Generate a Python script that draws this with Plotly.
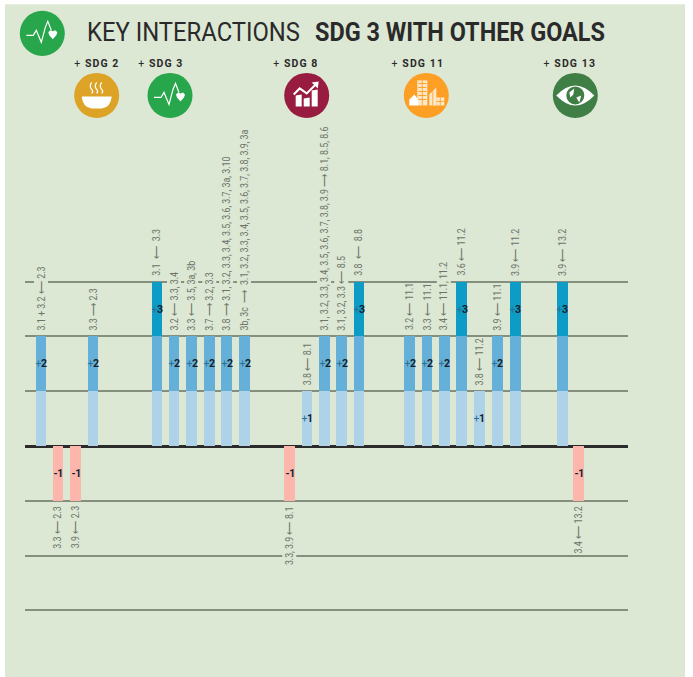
import plotly.graph_objects as go

# ---- data ----
bar_centers = [41, 58, 75.5, 93, 157, 174, 191.7, 209.3, 226.7, 244.5, 289.5, 307, 324.5, 341.7, 359,
               409.6, 427, 444.3, 461.7, 479.3, 497.3, 515.3, 562.3, 578.7]
bar_scores = [2, -1, -1, 2, 3, 2, 2, 2, 2, 2, -1, 1, 2, 2, 3, 2, 2, 2, 3, 1, 2, 3, 3, -1]
bar_notes = [
    "3.1 + 3.2 ⟵ 2.3", "3.3 ⟵ 2.3", "3.9 ⟵ 2.3", "3.3 ⟶ 2.3",
    "3.1\u00a0\u00a0⟵\u00a0\u00a03.3", "3.2 ⟵ 3.3, 3.4", "3.3 ⟵ 3.5, 3a, 3b", "3.7 ⟶ 3.2, 3.3",
    "3.8 ⟶ 3.1, 3.2, 3.3, 3.4, 3.5, 3.6, 3.7, 3a, 3.10",
    "3b, 3c\u00a0\u00a0⟶\u00a0\u00a03.1, 3.2, 3.3, 3.4, 3.5, 3.6, 3.7, 3.8, 3.9, 3a",
    "3.3, 3.9 ⟵ 8.1", "3.8 ⟵ 8.1",
    "3.1, 3.2, 3.3, 3.4, 3.5, 3.6, 3.7, 3.8, 3.9 ⟶ 8.1, 8.5, 8.6",
    "3.1, 3.2, 3.3 ⟵ 8.5", "3.8\u00a0\u00a0⟵\u00a0\u00a08.8",
    "3.2 ⟵ 11.1", "3.3 ⟵ 11.1", "3.4 ⟵ 11.1, 11.2", "3.6 ⟵ 11.2",
    "3.8 ⟵ 11.2", "3.9 ⟵ 11.1", "3.9 ⟵ 11.2", "3.9 ⟵ 13.2", "3.4 ⟵ 13.2",
]
title_light = "KEY INTERACTIONS"
title_bold = "SDG 3 WITH OTHER GOALS"
goal_labels = ["+ <b>SDG 2</b>", "+ <b>SDG 3</b>", "+ <b>SDG 8</b>", "+ <b>SDG 11</b>", "+ <b>SDG 13</b>"]
level_ticks = [-3, -2, -1, 0, 1, 2, 3]

# ---- page geometry ----
W, H = 693, 677
UNIT = 54.67
PAD = 0.05
L, R, T, B = 25, 628, 282 - PAD * UNIT, 610 + PAD * UNIT
PANEL = "#dce7d4"
FONT = "Roboto, Liberation Sans, sans-serif"
def fx(px): return (px - L) / (R - L)
def fy(py): return (B - py) / (B - T)

shapes = [dict(type="rect", xref="paper", yref="paper", x0=fx(5), x1=fx(685), y0=fy(5), y1=fy(677),
               fillcolor=PANEL, line_width=0, layer="below")]

def path(cmds, fill=None, stroke=None, lw=1.5):
    parts = []
    for c in cmds:
        if c[0] == "Z":
            parts.append("Z")
        else:
            parts.append(f"{c[0]} {fx(c[1]):.5f} {fy(c[2]):.5f}")
    d = dict(type="path", xref="paper", yref="paper", path=" ".join(parts), layer="above")
    d["fillcolor"] = fill if fill else "rgba(0,0,0,0)"
    d["line"] = dict(color=stroke if stroke else "rgba(0,0,0,0)", width=lw if stroke else 0)
    return d

def circle(cx, cy, r, fill):
    return dict(type="circle", xref="paper", yref="paper", x0=fx(cx - r), x1=fx(cx + r),
                y0=fy(cy + r), y1=fy(cy - r), fillcolor=fill, line_width=0, layer="above")

def poly(cx, cy, pts, fill="white", stroke=None, lw=1.5, close=True):
    cmds = [("M" if i == 0 else "L", cx + p[0], cy + p[1]) for i, p in enumerate(pts)]
    if close:
        cmds.append(("Z",))
    return path(cmds, fill=fill if close else None, stroke=stroke, lw=lw)

def health(cx, cy):
    s = [circle(cx, cy, 22.5, "#27a64b")]
    s.append(poly(cx, cy, [(-16, 2), (-9, 2), (-6, -3), (-1, 9), (3, -6), (5.5, -12), (9, -3)],
                  stroke="white", lw=1.2, close=False))
    s.append(poly(cx, cy, [(6, -1), (8, -3), (10.5, -2), (13, -3), (15, -1), (14, 2), (10.5, 6), (7, 2)], fill="white"))
    return s

def bowl(cx, cy):
    s = [circle(cx, cy, 22.5, "#dda327")]
    s.append(path([("M", cx - 15, cy + 1), ("L", cx + 15, cy + 1), ("Q", cx + 14, cy + 12),
                   ("", cx + 5, cy + 13), ("L", cx - 5, cy + 13), ("Q", cx - 14, cy + 12), ("", cx - 15, cy + 1), ("Z",)],
                  fill="white"))
    for dx in (-5, 0, 5):
        s.append(path([("M", cx + dx, cy - 13), ("Q", cx + dx - 3, cy - 9), ("", cx + dx, cy - 6),
                       ("Q", cx + dx + 2, cy - 4), ("", cx + dx, cy - 2)], stroke="white", lw=1.2))
    return s

def growth(cx, cy):
    s = [circle(cx, cy, 22.5, "#971c3f")]
    for x0, x1, top in [(-11, -5, 0), (-3, 3, 3), (5, 11, -5)]:
        s.append(poly(cx, cy, [(x0, 11), (x0, top), (x1, top - 1), (x1, 11)]))
    s.append(poly(cx, cy, [(-13, -1), (-7, -7), (0, -2), (9, -11)], stroke="white", lw=2, close=False))
    s.append(poly(cx, cy, [(5, -13), (12, -14), (11, -7)]))
    return s

def city(cx, cy):
    s = [circle(cx, cy, 22.5, "#fd9e25")]
    c = "#fde9c8"
    s.append(poly(cx, cy, [(-9, 10), (-9, -15), (1, -15), (1, 10)], fill=c))
    s.append(poly(cx, cy, [(3, 10), (3, -1), (10, -8), (10, 10)], fill=c))
    s.append(poly(cx, cy, [(10, 10), (10, 2), (18, 2), (18, 10)], fill=c))
    s.append(poly(cx, cy, [(-17, 10), (-17, 4), (-12, -1), (-8, 4), (-8, 10)], fill="white"))
    for y in (-12, -8, -4, 0, 4):
        s.append(poly(cx, cy, [(-8, y), (0, y)], stroke="#fd9e25", lw=1, close=False))
    s.append(poly(cx, cy, [(-4, -15), (-4, 10)], stroke="#fd9e25", lw=0.8, close=False))
    s.append(poly(cx, cy, [(10, 6), (18, 6)], stroke="#fd9e25", lw=0.8, close=False))
    s.append(poly(cx, cy, [(14, 2), (14, 10)], stroke="#fd9e25", lw=0.8, close=False))
    s.append(poly(cx, cy, [(6.5, -4), (6.5, 10)], stroke="#fd9e25", lw=0.8, close=False))
    return s

def eye(cx, cy):
    s = [circle(cx, cy, 22.5, "#3f7e44")]
    s.append(path([("M", cx - 19, cy), ("Q", cx, cy - 20), ("", cx + 19, cy), ("Q", cx, cy + 20), ("", cx - 19, cy), ("Z",)],
                  fill="white"))
    s.append(circle(cx, cy, 9, "#3f7e44"))
    s.append(poly(cx, cy, [(-6, -3), (-1, -7), (-2, -1), (-5, 2)], fill="white"))
    s.append(poly(cx, cy, [(1, 2), (6, 0), (4, 7)], fill="white"))
    return s

shapes += health(42.3, 34) + bowl(96.7, 96) + health(170, 96) + growth(306.7, 96) + city(426.3, 96) + eye(575.3, 96)

# ---- stacked bar segments ----
def layer_of(lo):
    return [1 if v >= lo else None for v in bar_scores]

fig = go.Figure()
for lo, color in [(1, "#aed3e9"), (2, "#65b0d9"), (3, "#0d9cc5")]:
    fig.add_trace(go.Bar(x=bar_centers, y=layer_of(lo), width=10.8, marker=dict(color=color, line_width=0),
                         showlegend=False))
fig.add_trace(go.Bar(x=bar_centers, y=[v if v < 0 else None for v in bar_scores], width=10.8,
                     marker=dict(color="#fdb6ac", line_width=0), showlegend=False))

# ---- annotations ----
ann = []
for x, v, note in zip(bar_centers, bar_scores, bar_notes):
    ann.append(dict(x=x, y=v, text=note, textangle=-90, showarrow=False, xanchor="center",
                    yanchor="bottom" if v > 0 else "top", yshift=5 if v > 0 else -5,
                    font=dict(family=FONT, size=10.5, color="#6d7569"), bgcolor=PANEL, borderpad=0))
    txt = f"<span style='color:#2d6f95'>+</span><b>{v}</b>" if v > 0 else f"<b>{v}</b>"
    ann.append(dict(x=x, y=v - 0.5 if v > 0 else v + 0.5, text=txt, showarrow=False,
                    font=dict(family=FONT, size=10.5, color="#14202c")))

ann.append(dict(xref="paper", yref="paper", x=fx(85), y=fy(33), text=title_light, showarrow=False,
                xanchor="left", yanchor="middle", font=dict(family=FONT, size=25, color="#2a2a2a")))
ann.append(dict(xref="paper", yref="paper", x=fx(313), y=fy(33), text=f"<b>{title_bold}</b>", showarrow=False,
                xanchor="left", yanchor="middle", font=dict(family=FONT, size=25, color="#2a2a2a")))
for label, cx in zip(goal_labels, [97, 161, 296, 418, 570]):
    ann.append(dict(xref="paper", yref="paper", x=fx(cx), y=fy(64), text=label, showarrow=False,
                    xanchor="center", yanchor="middle", font=dict(family=FONT, size=10.5, color="#2a2a2a")))

fig.update_layout(
    width=W, height=H, barmode="relative", bargap=0, showlegend=False,
    margin=dict(l=L, r=W - R, t=T, b=H - B, pad=0),
    paper_bgcolor="white", plot_bgcolor="rgba(0,0,0,0)",
    shapes=shapes, annotations=ann,
    xaxis=dict(range=[L, R], visible=False, fixedrange=True),
    yaxis=dict(range=[-3 - PAD, 3 + PAD], tickvals=level_ticks, showticklabels=False, ticks="", fixedrange=True,
               showgrid=True, gridcolor="#858f7d", gridwidth=1.5, zeroline=True, zerolinecolor="#2b2b2b",
               zerolinewidth=2.6, showline=False),
)

post = """
document.body.style.margin='0';
document.documentElement.style.overflow='hidden';
var targets={'KEY INTERACTIONS':213,'SDG 3 WITH OTHER GOALS':290};
var NOTE_SCALE=0.84;
document.querySelectorAll('.annotation').forEach(function(a){
  var t=a.querySelector('text.annotation-text'); if(!t) return;
  var s=t.textContent, len=t.getComputedTextLength();
  var x0=parseFloat(t.getAttribute('x')||'0');
  if(targets[s]){
    t.setAttribute('textLength',targets[s]); t.setAttribute('lengthAdjust','spacingAndGlyphs');
    t.setAttribute('x',x0-(len-targets[s])/2);
  } else if(s.indexOf('SDG')>=0){
    t.style.letterSpacing='1.1px';
  } else if(s.indexOf('\\u27f5')>=0||s.indexOf('\\u27f6')>=0){
    var nl=len*NOTE_SCALE;
    var isNeg=a.getBoundingClientRect().top>446;
    t.setAttribute('textLength',nl); t.setAttribute('lengthAdjust','spacingAndGlyphs');
    t.setAttribute('x',x0+(len-nl)/2*(isNeg?1:-1));
    var r=a.querySelector('rect.bg');
    if(r){ var rx=parseFloat(r.getAttribute('x')||'0'); r.setAttribute('width',nl); r.setAttribute('x',isNeg?rx+(len-nl):rx); }
  } else {
    t.style.letterSpacing='-0.5px';
  }
});
"""
fig.write_html("out.html", config=dict(displayModeBar=False), post_script=post)
